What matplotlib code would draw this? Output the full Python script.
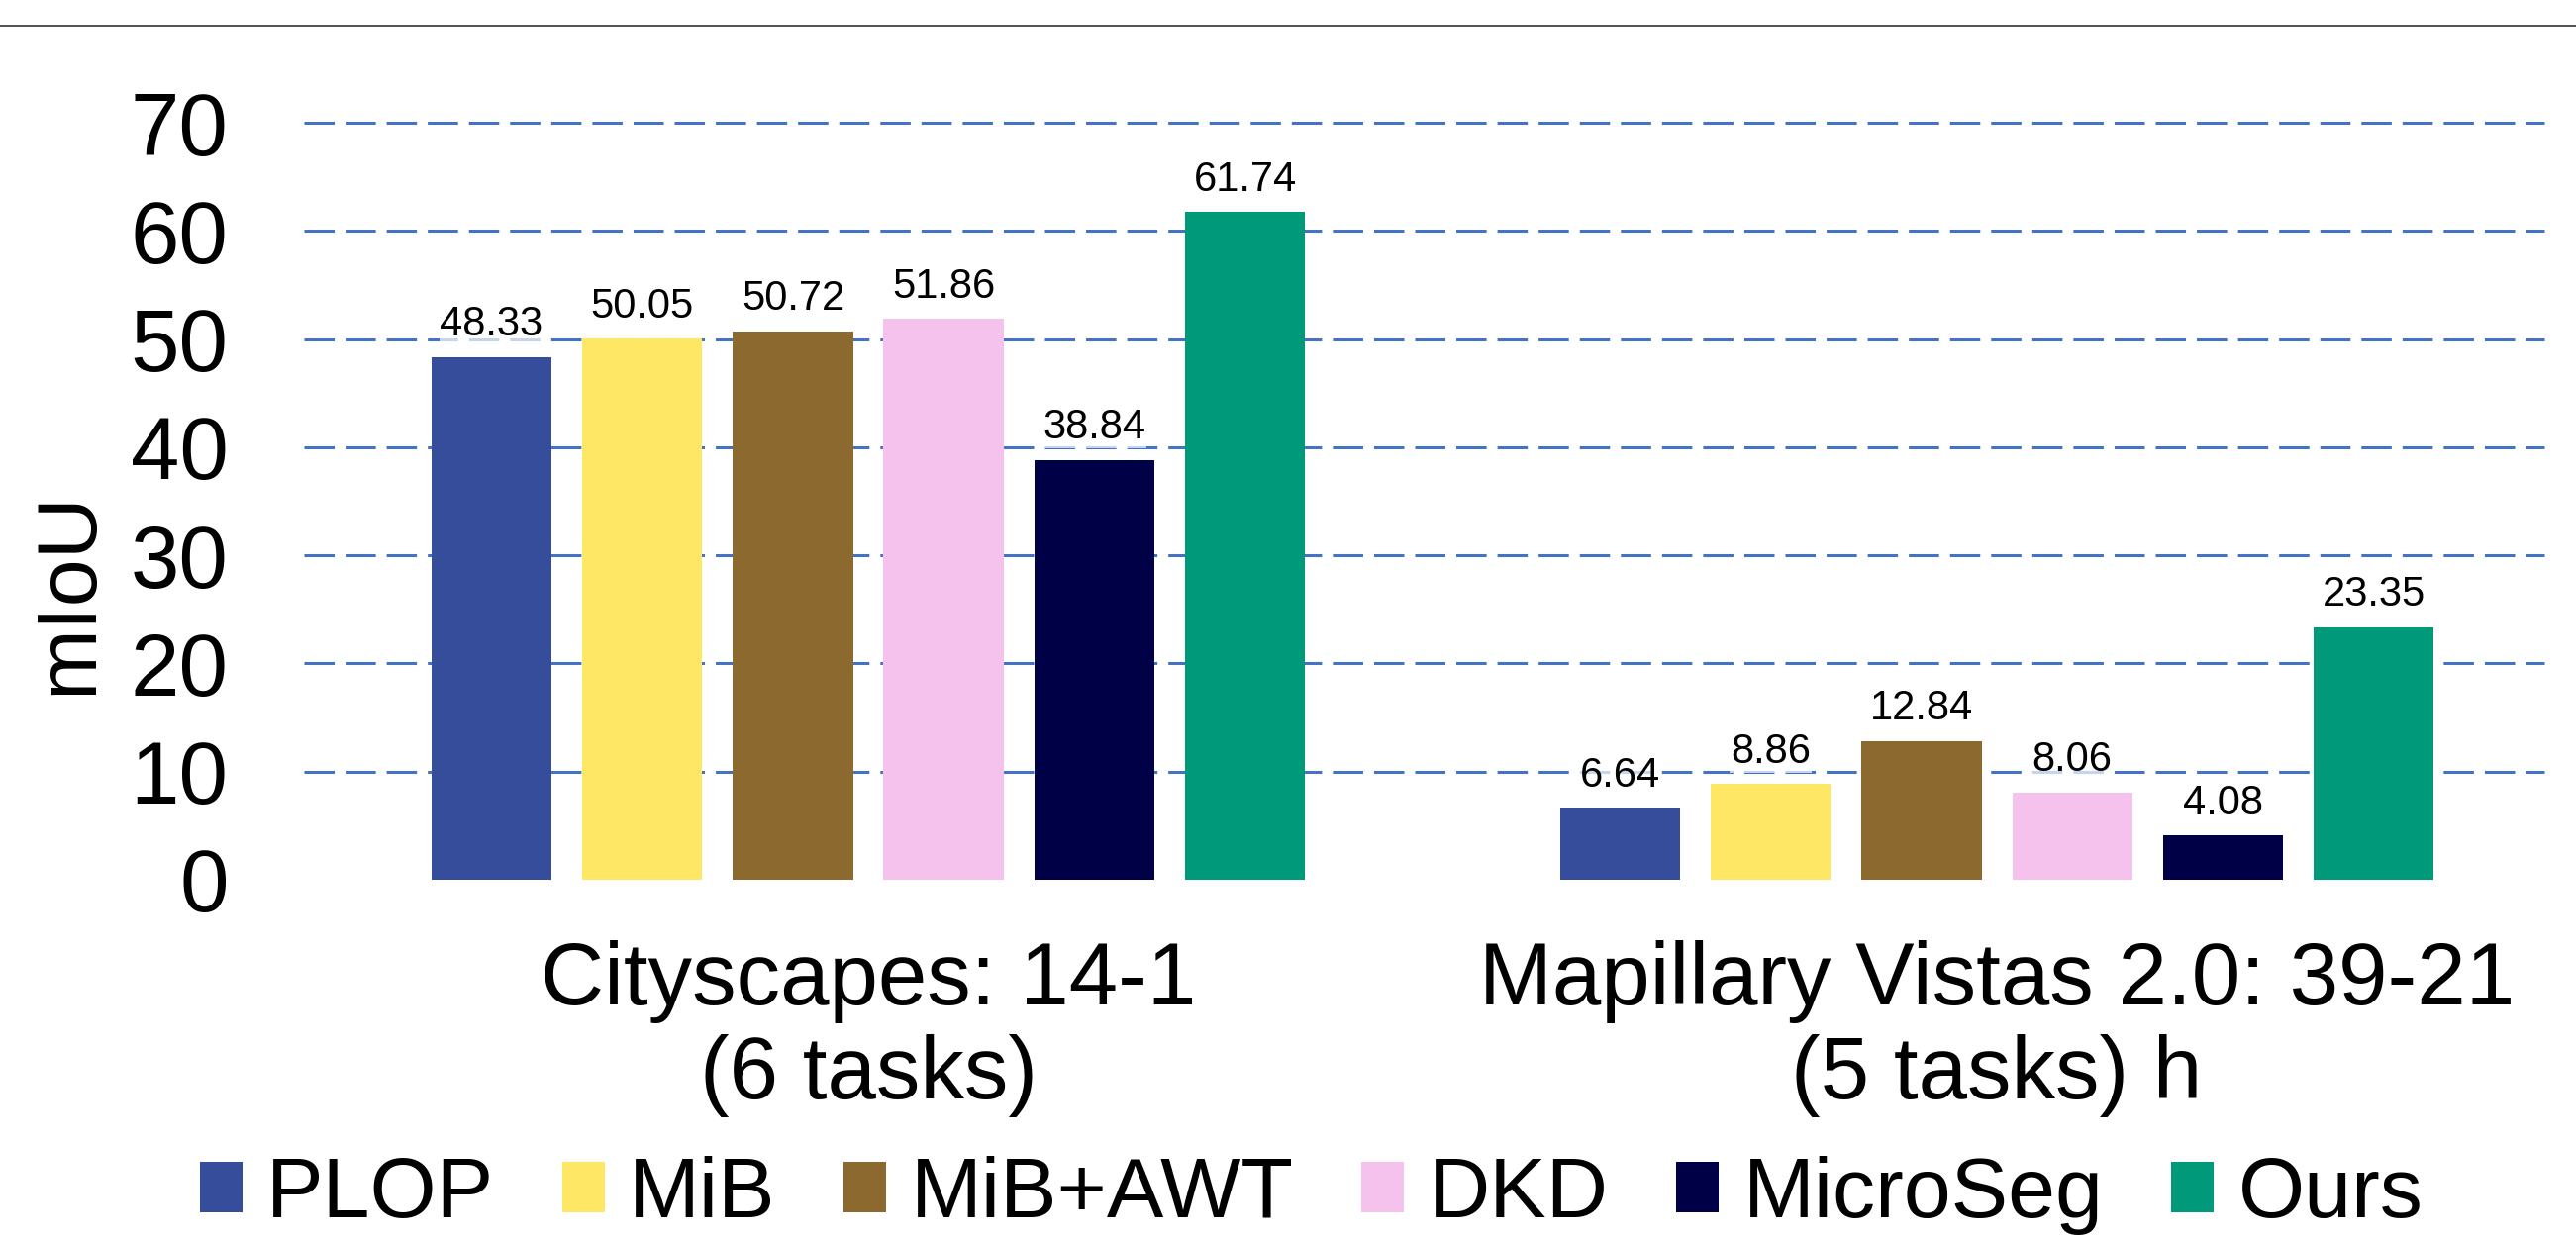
import matplotlib
matplotlib.use("Agg")
import matplotlib.pyplot as plt
from matplotlib.lines import Line2D
import numpy as np

plt.rcParams['font.family'] = ['Liberation Sans', 'DejaVu Sans']

# data
categories = ["Cityscapes: 14-1\n(6 tasks)", "Mapillary Vistas 2.0: 39-21\n(5 tasks) h"]
methods = ["PLOP", "MiB", "MiB+AWT", "DKD", "MicroSeg", "Ours"]
scores = {
    "PLOP":     [48.33, 6.64],
    "MiB":      [50.05, 8.86],
    "MiB+AWT":  [50.72, 12.84],
    "DKD":      [51.86, 8.06],
    "MicroSeg": [38.84, 4.08],
    "Ours":     [61.74, 23.35],
}
colors = ["#354D9B", "#FFE766", "#8C6A2F", "#F4C2EC", "#000046", "#009A7B"]
yticks = [0, 10, 20, 30, 40, 50, 60, 70]

fig = plt.figure(figsize=(26.02, 12.52), dpi=100)
ax = fig.add_axes([307 / 2602, 1 - 889 / 1252, (2570 - 307) / 2602, (889 - 124) / 1252])

x = np.arange(len(categories))
step = 0.1335
width = 0.1064
for i, (m, c) in enumerate(zip(methods, colors)):
    bars = ax.bar(x + (i - 2.5) * step, scores[m], width, color=c, label=m, zorder=2)
    ax.bar_label(bars, labels=[f"{v:.2f}" for v in scores[m]], padding=9, fontsize=30,
                 bbox=dict(facecolor='white', alpha=0.7, edgecolor='none', pad=0.5), zorder=3)

# dashed grid
for y in yticks[1:]:
    ax.axhline(y, color='#4472C4', lw=2.2, dashes=(10, 3.6), clip_on=False, zorder=1)

ax.set_xlim(-0.5, 1.485)
ax.set_ylim(0, 70)
ax.set_yticks(yticks)
ax.set_yticklabels([str(t) for t in yticks], fontsize=64)
ax.set_xticks(x)
ax.set_xticklabels(categories, fontsize=64, linespacing=1.17)
ax.tick_params(axis='y', length=0, pad=55)
ax.tick_params(axis='x', length=0, pad=44)
for s in ax.spines.values():
    s.set_visible(False)

fig.text(70 / 2602, 1 - 599 / 1252, "mIoU", rotation=90, fontsize=62, ha='center', va='center')

fig.legend(loc='center', bbox_to_anchor=(0.509, 1 - 1208 / 1252), ncol=6, frameon=False,
           fontsize=62, handlelength=0.5, handleheight=0.52, handletextpad=0.28,
           columnspacing=0.8, borderpad=0, borderaxespad=0)

# thin rule at the top
fig.add_artist(Line2D([0, 1], [1 - 26 / 1252] * 2, color='#333333', lw=1.2, transform=fig.transFigure))

fig.savefig("out.png", dpi=100)
